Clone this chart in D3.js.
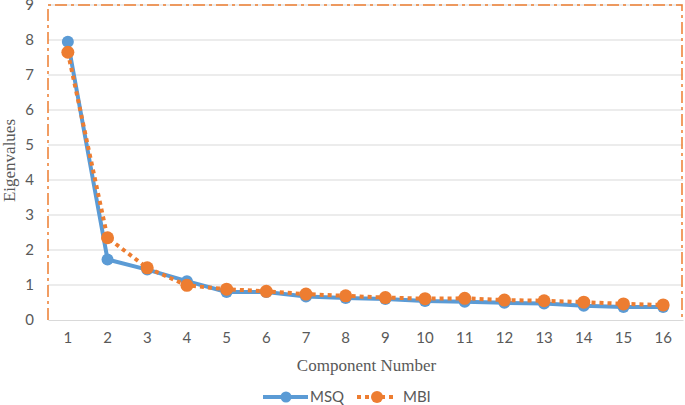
<!DOCTYPE html>
<html>
<head>
<meta charset="utf-8">
<script src="https://cdn.jsdelivr.net/npm/d3@7"></script>
<style>
  body { margin: 0; background: #fff; }
  svg { display: block; }
</style>
</head>
<body>
<div id="chart"></div>
<script>
const components = [1, 2, 3, 4, 5, 6, 7, 8, 9, 10, 11, 12, 13, 14, 15, 16];
const msq = [7.95, 1.73, 1.44, 1.11, 0.80, 0.80, 0.67, 0.63, 0.60, 0.54, 0.52, 0.49, 0.47, 0.41, 0.37, 0.37];
const mbi = [7.65, 2.35, 1.49, 0.99, 0.88, 0.82, 0.74, 0.69, 0.64, 0.61, 0.62, 0.57, 0.55, 0.51, 0.46, 0.43];
const yTicks = [0, 1, 2, 3, 4, 5, 6, 7, 8, 9];

const margin = { top: 5, right: 2, bottom: 85, left: 48 },
  width = 685 - margin.left - margin.right,
  height = 405 - margin.top - margin.bottom;

const labelFont = "Lato, 'Open Sans', sans-serif";
const titleFont = "'Liberation Serif', 'Times New Roman', serif";

const svgRoot = d3.select("#chart").append("svg")
  .attr("width", 685).attr("height", 405);
const svg = svgRoot.append("g")
  .attr("transform", "translate(" + margin.left + "," + margin.top + ")");

const x = d3.scaleBand().domain(components).range([0, width]);
const y = d3.scaleLinear().domain([0, 9]).range([height, 0]);
const cx = d => x(d) + x.bandwidth() / 2;

// gridlines
svg.append("g").selectAll("line")
  .data(yTicks.filter(t => t > 0))
  .enter().append("line")
  .attr("x1", 0).attr("x2", width)
  .attr("y1", d => y(d)).attr("y2", d => y(d))
  .attr("stroke", "#d9d9d9").attr("stroke-width", 1);

// y tick labels
svg.append("g").selectAll("text")
  .data(yTicks)
  .enter().append("text")
  .attr("x", -14).attr("y", d => y(d))
  .attr("dy", "0.35em")
  .attr("text-anchor", "end")
  .attr("font-family", labelFont)
  .attr("font-size", 15)
  .attr("fill", "#595959")
  .text(d => d);

// x axis
const xAxis = svg.append("g")
  .attr("transform", "translate(0," + height + ")")
  .call(d3.axisBottom(x).tickSize(0).tickPadding(12));
xAxis.select(".domain").attr("stroke", "#d9d9d9");
xAxis.selectAll("text")
  .attr("font-family", labelFont)
  .attr("font-size", 15)
  .attr("fill", "#595959");

// orange dash-dot plot border
svg.append("path")
  .attr("d", "M0," + height + "V0H" + (width - 1) + "V" + height)
  .attr("fill", "none")
  .attr("stroke", "#ed7d31")
  .attr("stroke-width", 1.5)
  .attr("stroke-dasharray", "12,4,3,4");

// axis titles
svgRoot.append("text")
  .attr("transform", "translate(15," + (margin.top + height / 2 - 2) + ") rotate(-90)")
  .attr("text-anchor", "middle")
  .attr("font-family", titleFont)
  .attr("font-size", 17)
  .attr("fill", "#595959")
  .text("Eigenvalues");

svgRoot.append("text")
  .attr("x", margin.left + width / 2 + 1)
  .attr("y", 371)
  .attr("text-anchor", "middle")
  .attr("font-family", titleFont)
  .attr("font-size", 17)
  .attr("fill", "#595959")
  .text("Component Number");

const line = d3.line().x((d, i) => cx(components[i])).y(d => y(d));

// MSQ series
svg.append("path").datum(msq)
  .attr("d", line)
  .attr("fill", "none")
  .attr("stroke", "#5b9bd5")
  .attr("stroke-width", 4)
  .attr("stroke-linejoin", "round");
svg.append("g").selectAll("circle")
  .data(msq).enter().append("circle")
  .attr("cx", (d, i) => cx(components[i]))
  .attr("cy", d => y(d))
  .attr("r", 6)
  .attr("fill", "#5b9bd5");

// MBI series
svg.append("path").datum(mbi)
  .attr("d", line)
  .attr("fill", "none")
  .attr("stroke", "#ed7d31")
  .attr("stroke-width", 4)
  .attr("stroke-dasharray", "4,4");
svg.append("g").selectAll("circle")
  .data(mbi).enter().append("circle")
  .attr("cx", (d, i) => cx(components[i]))
  .attr("cy", d => y(d))
  .attr("r", 6.5)
  .attr("fill", "#ed7d31");

// legend
const legend = svgRoot.append("g").attr("transform", "translate(0,397)");
legend.append("line")
  .attr("x1", 263).attr("x2", 308).attr("y1", 0).attr("y2", 0)
  .attr("stroke", "#5b9bd5").attr("stroke-width", 4);
legend.append("circle").attr("cx", 286).attr("cy", 0).attr("r", 5.5).attr("fill", "#5b9bd5");
legend.append("text")
  .attr("x", 310).attr("y", 0).attr("dy", "0.35em")
  .attr("font-family", labelFont)
  .attr("font-size", 15).attr("fill", "#595959")
  .text("MSQ");
legend.append("line")
  .attr("x1", 357).attr("x2", 397).attr("y1", 0).attr("y2", 0)
  .attr("stroke", "#ed7d31").attr("stroke-width", 4)
  .attr("stroke-dasharray", "4,4");
legend.append("circle").attr("cx", 377).attr("cy", 0).attr("r", 6).attr("fill", "#ed7d31");
legend.append("text")
  .attr("x", 403).attr("y", 0).attr("dy", "0.35em")
  .attr("font-family", labelFont)
  .attr("font-size", 15).attr("fill", "#595959")
  .text("MBI");
</script>
</body>
</html>
